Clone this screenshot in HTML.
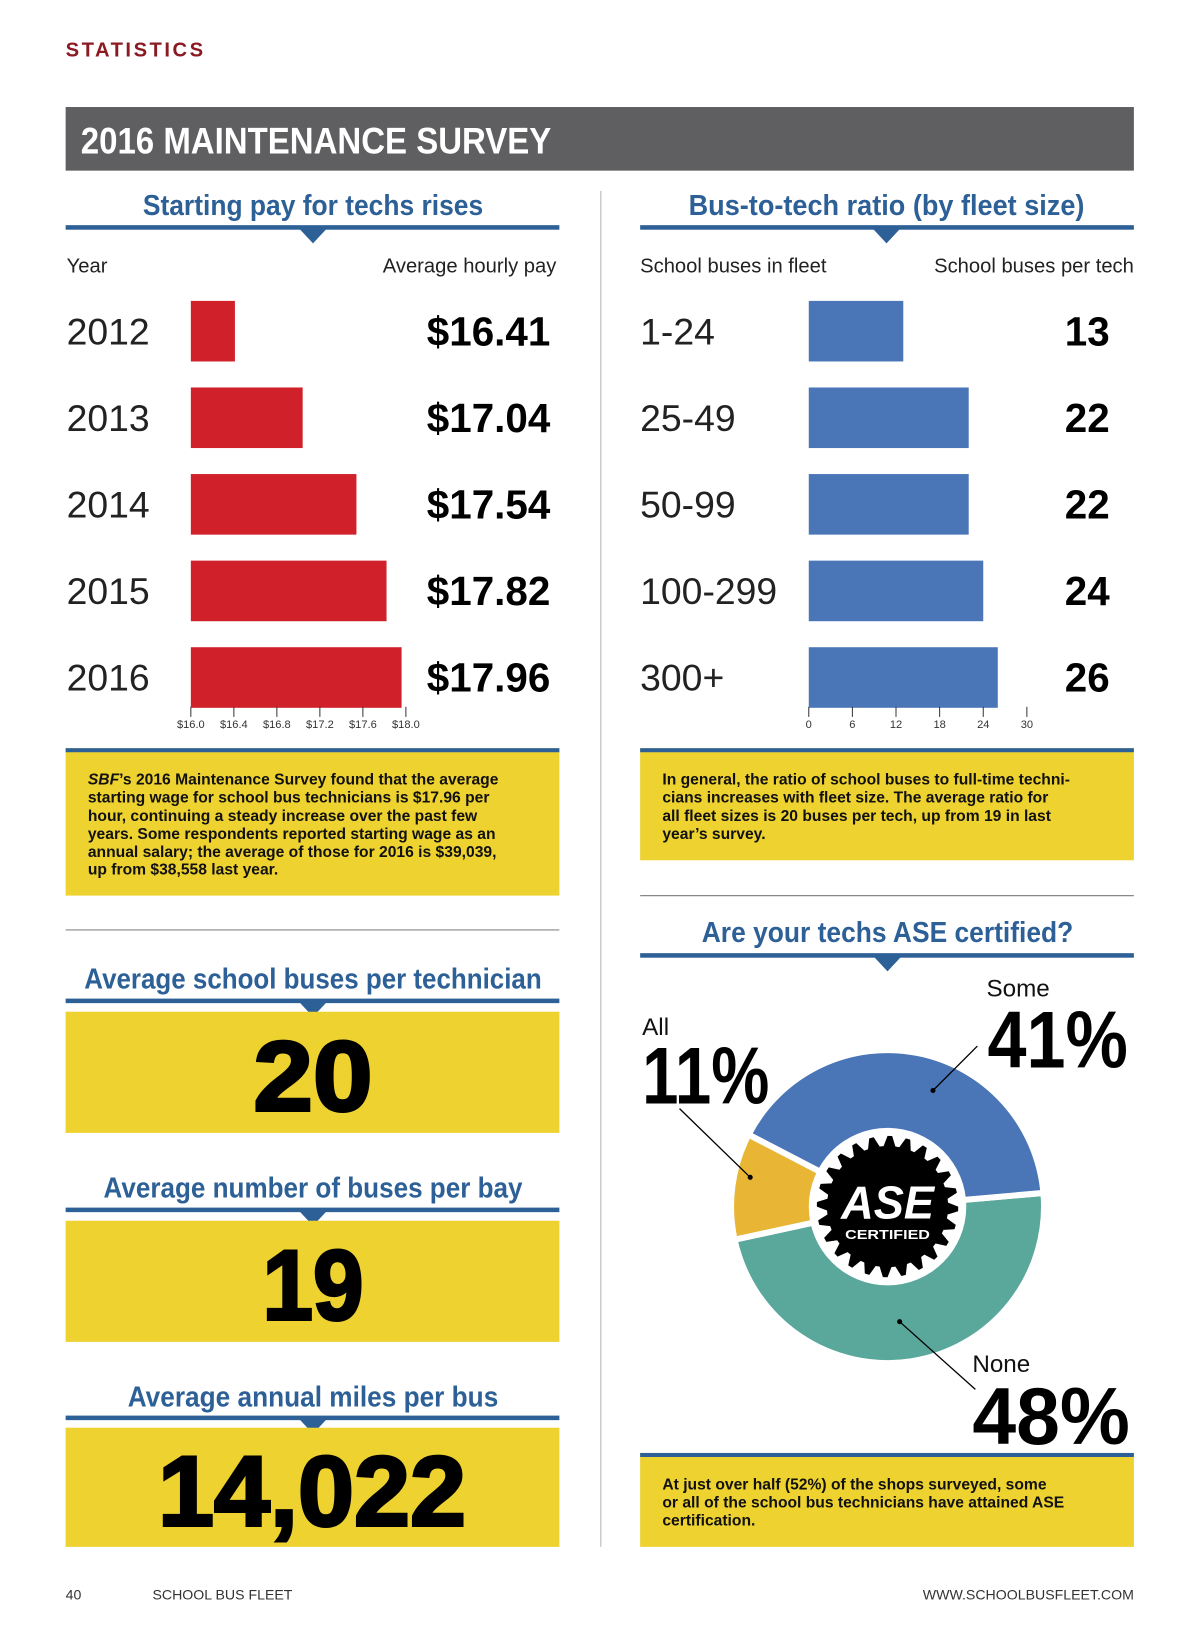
<!DOCTYPE html>
<html><head><meta charset="utf-8"><style>
body{margin:0;background:#fff}
svg{display:block}
text{font-family:"Liberation Sans",sans-serif}
.cond{font-family:"Liberation Sans Narrow","Liberation Sans",sans-serif}
</style></head><body>
<svg id="pg" width="1200" height="1638" viewBox="0 0 1200 1638">
<g transform="scale(1.0097)">
<text x="65" y="56" font-size="20" font-weight="bold" fill="#8b1a22" letter-spacing="2.5">STATISTICS</text>
<rect x="65" y="106" width="1058" height="63" fill="#5f5f61"/>
<text class="cond" x="80" y="152" font-size="37" font-weight="bold" fill="#fff" textLength="466" lengthAdjust="spacingAndGlyphs">2016 MAINTENANCE SURVEY</text>
<line x1="595" y1="189" x2="595" y2="1532" stroke="#ccc" stroke-width="1.5"/>

<g id="titles"></g>

<text x="66" y="270" font-size="20" fill="#222">Year</text>
<text x="551" y="270" font-size="20" fill="#222" text-anchor="end">Average hourly pay</text>
<text x="634" y="270" font-size="20" fill="#222">School buses in fleet</text>
<text x="1123" y="270" font-size="20" fill="#222" text-anchor="end">School buses per tech</text>

<g id="payChart"></g>
<g id="ratioChart"></g>

<rect x="65" y="741" width="489" height="146" fill="#eed230"/>
<rect x="65" y="741" width="489" height="4" fill="#2d6096"/>
<g font-size="15.5" font-weight="bold" fill="#111">
<text x="87" y="777"><tspan font-style="italic">SBF</tspan>’s 2016 Maintenance Survey found that the average</text>
<text x="87" y="795">starting wage for school bus technicians is $17.96 per</text>
<text x="87" y="813">hour, continuing a steady increase over the past few</text>
<text x="87" y="831">years. Some respondents reported starting wage as an</text>
<text x="87" y="849">annual salary; the average of those for 2016 is $39,039,</text>
<text x="87" y="866">up from $38,558 last year.</text>
</g>
<rect x="634" y="741" width="489" height="111" fill="#eed230"/>
<rect x="634" y="741" width="489" height="4" fill="#2d6096"/>
<g font-size="15.5" font-weight="bold" fill="#111">
<text x="656" y="777">In general, the ratio of school buses to full-time techni-</text>
<text x="656" y="795">cians increases with fleet size. The average ratio for</text>
<text x="656" y="813">all fleet sizes is 20 buses per tech, up from 19 in last</text>
<text x="656" y="831">year’s survey.</text>
</g>
<line x1="65" y1="921" x2="554" y2="921" stroke="#888" stroke-width="1.2"/>
<line x1="634" y1="887" x2="1123" y2="887" stroke="#888" stroke-width="1.2"/>

<rect x="65" y="1002" width="489" height="120" fill="#eed230"/>
<text x="310" y="1100" font-size="98" font-weight="bold" fill="#000" text-anchor="middle" textLength="118" lengthAdjust="spacingAndGlyphs" stroke="#000" stroke-width="3">20</text>
<rect x="65" y="1209" width="489" height="120" fill="#eed230"/>
<text x="310" y="1307" font-size="98" font-weight="bold" fill="#000" text-anchor="middle" textLength="100" lengthAdjust="spacingAndGlyphs" stroke="#000" stroke-width="3">19</text>
<rect x="65" y="1414" width="489" height="118" fill="#eed230"/>
<text x="309" y="1511" font-size="98" font-weight="bold" fill="#000" text-anchor="middle" textLength="305" lengthAdjust="spacingAndGlyphs" stroke="#000" stroke-width="3">14,022</text>

<g id="donut"></g>

<rect x="634" y="1439" width="489" height="93" fill="#eed230"/>
<rect x="634" y="1439" width="489" height="4" fill="#2d6096"/>
<g font-size="15.5" font-weight="bold" fill="#111">
<text x="656" y="1475">At just over half (52%) of the shops surveyed, some</text>
<text x="656" y="1493">or all of the school bus technicians have attained ASE</text>
<text x="656" y="1511">certification.</text>
</g>

<text x="65" y="1584" font-size="14" fill="#333">40</text>
<text x="151" y="1584" font-size="14" fill="#333">SCHOOL BUS FLEET</text>
<text x="1123" y="1584" font-size="14" fill="#333" text-anchor="end">WWW.SCHOOLBUSFLEET.COM</text>
</g>
</svg>
<script>
const years = ["2012","2013","2014","2015","2016"];
const pay = [16.41,17.04,17.54,17.82,17.96];
const payTicks = [16.0,16.4,16.8,17.2,17.6,18.0];
const fleetSizes = ["1-24","25-49","50-99","100-299","300+"];
const ratios = [13,22,22,24,26];
const ratioTicks = [0,6,12,18,24,30];
const aseLabels = ["None","All","Some"];
const aseValues = [48,11,41];

const NS="http://www.w3.org/2000/svg";
function mk(tag,attrs,parent,txt){const e=document.createElementNS(NS,tag);for(const k in attrs)e.setAttribute(k,attrs[k]);if(txt!==undefined)e.textContent=txt;parent.appendChild(e);return e;}

const titles=[["Starting pay for techs rises",310,204,225,65,554,337],["Bus-to-tech ratio (by fleet size)",878,204,225,634,1123,392],["Are your techs ASE certified?",879,924,946,634,1123,368],["Average school buses per technician",310,970,991,65,554,453],["Average number of buses per bay",310,1177,1198,65,554,415],["Average annual miles per bus",310,1384,1404,65,554,367]];
const tg=document.getElementById('titles');
titles.forEach(t=>{
  const tx=mk('text',{class:'cond',x:t[1],y:t[2]+9,'font-size':28,'font-weight':'bold',fill:'#2d6096','text-anchor':'middle',textLength:t[6],lengthAdjust:'spacingAndGlyphs'},tg,t[0]);
  
  
  const r=mk('rect',{x:t[4],y:t[3]-2,width:t[5]-t[4],height:4.5,fill:'#2d6096'},tg);
  
  
  const p=mk('polygon',{points:`${t[1]-15},${t[3]} ${t[1]+15},${t[3]} ${t[1]},${t[3]+16}`,fill:'#2d6096'},tg);
  
  
});

const rowY=[328,413,499,585,671], barH=60;
function barChart(gid,cats,vals,ticks,x0,x1,color,labX,valX,fmt,tfmt){
  const g=document.getElementById(gid);
  const mn=ticks[0],mx=ticks[ticks.length-1];
  const sx=v=>x0+(v-mn)/(mx-mn)*(x1-x0);
  cats.forEach((c,i)=>{
    const y=rowY[0]+i*(rowY[4]-rowY[0])/4;
    const l=mk('text',{x:labX,y:y+13,'font-size':37,fill:'#222'},g,c);
    
    
    const b=mk('rect',{x:x0,y:y-barH/2,width:sx(vals[i])-x0,height:barH,fill:color},g);
    
    
    const v=mk('text',{x:valX,y:y+14,'font-size':40,'font-weight':'bold',fill:'#000','text-anchor':'end'},g,fmt(vals[i]));
    
    
  });
  ticks.forEach(t=>{
    const x=sx(t);
    mk('line',{x1:x,y1:700,x2:x,y2:710,stroke:'#333','stroke-width':1},g);
    const tl=mk('text',{x:x,y:721,'font-size':11,fill:'#333','text-anchor':'middle'},g,tfmt(t));
    
    
  });
}
barChart('payChart',years,pay,payTicks,189,402,'#d0202a',66,545,v=>'$'+v.toFixed(2),t=>'$'+t.toFixed(1));
barChart('ratioChart',fleetSizes,ratios,ratioTicks,801,1017,'#4a76b8',634,1099,v=>String(v),t=>String(t));

const dg=document.getElementById('donut');
const cx=879,cy=1195,R=155,r0=72;
const colors=['#5aa79b','#e8b535','#4a76b8'];
let a=-5*Math.PI/180;
const tot=aseValues.reduce((s,v)=>s+v,0);
aseValues.forEach((v,i)=>{
  const a2=a+v/tot*2*Math.PI;
  const P=(rr,ang)=>[cx+rr*Math.cos(ang),cy+rr*Math.sin(ang)];
  const [x1,y1]=P(R,a),[x2,y2]=P(R,a2),[x3,y3]=P(r0,a2),[x4,y4]=P(r0,a);
  const lg=(a2-a)>Math.PI?1:0;
  const s=mk('path',{d:`M${x1},${y1} A${R},${R} 0 ${lg} 1 ${x2},${y2} L${x3},${y3} A${r0},${r0} 0 ${lg} 0 ${x4},${y4}Z`,fill:colors[i],stroke:'#fff','stroke-width':6},dg);
  
  
  a=a2;
});
mk('circle',{cx:cx,cy:cy,r:78,fill:'#fff'},dg);
let pts=[];const N=24;
for(let k=0;k<N*4;k++){const ang=k/(N*4)*2*Math.PI;const rr=(k%4<2)?70:60;pts.push((cx+rr*Math.cos(ang)).toFixed(1)+','+(cy+rr*Math.sin(ang)).toFixed(1));}
const gear=mk('polygon',{points:pts.join(' '),fill:'#000'},dg);


mk('text',{x:cx,y:cy+12,'font-size':46,'font-weight':'bold','font-style':'italic',fill:'#fff','text-anchor':'middle',textLength:92,lengthAdjust:'spacingAndGlyphs'},dg,'ASE');
mk('text',{x:cx,y:cy+32,'font-size':13,'font-weight':'bold',fill:'#fff','text-anchor':'middle',textLength:84,lengthAdjust:'spacingAndGlyphs'},dg,'CERTIFIED');
// leader lines: [x1,y1,x2,y2,dotX,dotY]
[[968,1036,924,1080,924,1080],[673,1098,743,1166,743,1166],[891,1309,966,1376,891,1309]].forEach(l=>{
  mk('line',{x1:l[0],y1:l[1],x2:l[2],y2:l[3],stroke:'#000','stroke-width':1.3},dg);
  mk('circle',{cx:l[4],cy:l[5],r:2.5,fill:'#000'},dg);
});
const labs=[["Some",977,987,978,1057,139],["All",636,1025,636,1093,126],["None",963,1359,963,1430,156]];
const pv={Some:aseValues[2],All:aseValues[1],None:aseValues[0]};
labs.forEach(l=>{
  const t1=mk('text',{x:l[1],y:l[2],'font-size':24,fill:'#111'},dg,l[0]);
  
  
  const t2=mk('text',{x:l[3],y:l[4],'font-size':80,'font-weight':'bold',fill:'#000',textLength:l[5],lengthAdjust:'spacingAndGlyphs'},dg,pv[l[0]]+'%');
  
  
});
</script>
</body></html>
